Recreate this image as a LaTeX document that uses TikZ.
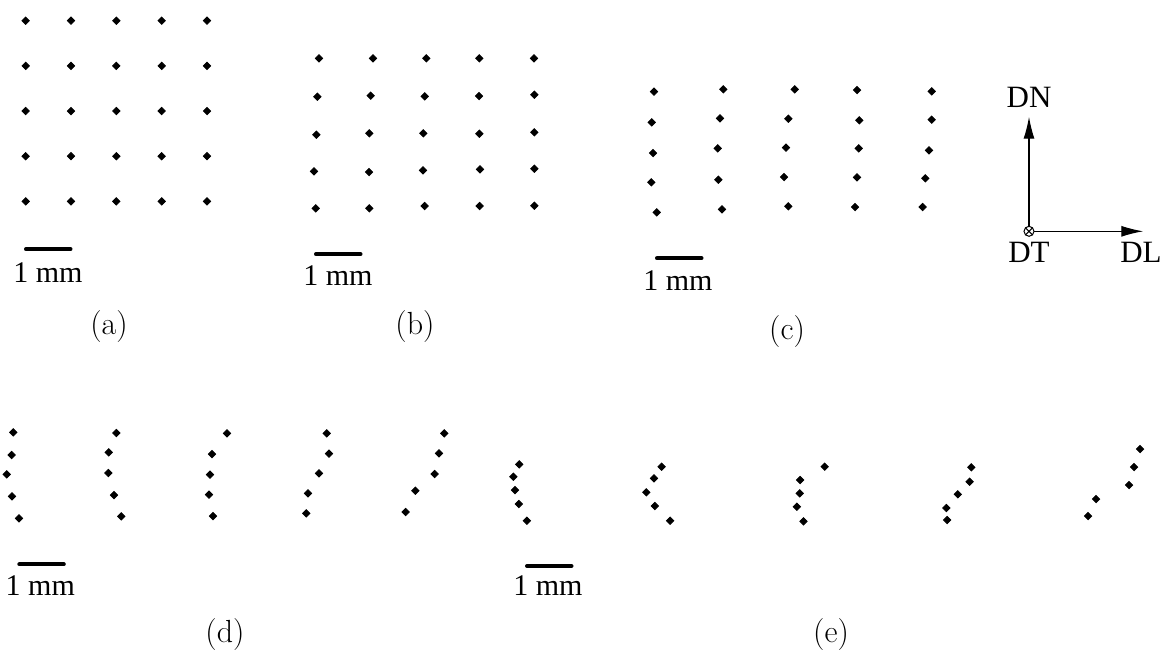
\documentclass[tikz,border=0pt]{standalone}
\usepackage{fontspec}
\usetikzlibrary{arrows.meta, plotmarks}
\newfontfamily\xfigfont{Liberation Serif}

\begin{document}
\begin{tikzpicture}[x=0.5pt, y=-0.5pt,
        dots/.style={only marks, mark=square*, mark size=1.3pt,
          mark options={rotate=45, fill=black}},
        bar/.style={line width=2pt, line cap=round},
        mm/.style={font=\xfigfont\fontsize{15}{17}\selectfont, anchor=base west, inner sep=0pt},
        sub/.style={font=\fontsize{16}{18}\selectfont, anchor=base, inner sep=0pt},
        ax/.style={font=\xfigfont\fontsize{15.5}{17}\selectfont, anchor=base, inner sep=0pt},
        axis/.style={line width=0.6pt, -{Latex[length=11pt, width=5.5pt]}}]
      \useasboundingbox (0,0) rectangle (1163,650);

      % (a) regular grid
      \foreach \yy in {20.7,65.9,111,156.2,201.4}
        \path plot[dots] coordinates {(25.7,\yy) (71,\yy) (116.3,\yy) (161.7,\yy) (207,\yy)};

      % (b) slightly displaced
      \path plot[dots] coordinates {(319,58.3) (373,58.3) (426.3,58.3) (479.3,58.3) (534,58.3)
        (317.3,96.7) (370.7,95.7) (424.7,96.3) (479,96) (534.3,94.7)
        (316.3,134.7) (369.3,133.3) (423.3,133.3) (479.3,133.7) (534.3,132.3)
        (314,171.3) (369,172) (423,170.3) (480,169.3) (534.3,168.7)
        (315.7,208.3) (369.3,208.3) (424.7,206) (479.7,206) (534.3,205.7)};

      % (c) columns start to bend
      \path plot[dots] coordinates {(654,91.7) (723.3,89.3) (794.7,89.3) (857,90) (931.7,91.3)
        (651.7,122.3) (720,118.3) (788.3,118.7) (859.3,120.3) (931.7,119.7)
        (653,153) (717.7,148.3) (786,147.7) (858.7,148.3) (929,150.3)
        (651.3,182.3) (718.3,179.7) (784,177) (857,177.3) (925.3,178.3)
        (656.7,212.3) (722,209.3) (788.3,206.3) (855,207) (922.7,207)};

      % (d)
      \path plot[dots] coordinates {(13.3,432.3) (11.7,455) (6.7,474.3) (12,496.3) (19,518.3)
        (116.3,433) (108.7,452.3) (108.3,473) (114,495) (121.3,516.3)
        (227,433.3) (212,454) (210,474.7) (209,494.7) (213,516)
        (326.7,433.3) (329,453.7) (319,473.3) (308,493.3) (306.3,513.3)
        (444.3,433.3) (439,453.3) (434.7,474) (415.3,490.7) (405.7,512)};

      % (e)
      \path plot[dots] coordinates {(519.2,464.3) (513.3,476.7) (515,490) (518.8,504) (526.9,520.7)
        (661.6,466.7) (654,478.3) (646.3,492.3) (654.8,506) (670.1,520.7)
        (824.7,466.7) (800.1,480) (799.7,493.3) (796.8,506.7) (803.5,521.3)
        (971.3,467.3) (969.6,481.7) (957.8,494.3) (946.3,508) (947.2,520)
        (1140,449) (1134,467) (1129,485) (1096,499) (1088,516)};

      % scale bars
      \foreach \i/\bx/\by/\tx/\ty in {a/24/249.3/13/282.7, b/314/254.3/303/285,
          c/655/258.3/643/290, d/17.3/564.3/5.3/595, e/525/566/513/595} {
        \draw[bar] (\bx+2,\by) -- (\bx+46.5,\by);
        \node[mm] (mm\i) at (\tx,\ty) {1 mm};
      }

      \node[sub] (capa) at (109,334) {(a)};
      \node[sub] (capb) at (415,334) {(b)};
      \node[sub] (capc) at (787,339) {(c)};
      \node[sub] (capd) at (225,642) {(d)};
      \node[sub] (cape) at (831,642) {(e)};

      % sample axes
      \coordinate (o) at (1029,231.3);
      \coordinate (n) at (1029,116.7);
      \coordinate (l) at (1143.3,231.3);
      \draw[axis] (o) -- (n);
      \draw[axis] (o) -- (l);
      \draw[line width=0.5pt, fill=white] (o) circle[radius=5];
      \draw[line width=0.5pt] (o) +(-3.5,-3.5) -- +(3.5,3.5) (o) +(-3.5,3.5) -- +(3.5,-3.5);
      \node[ax] (dn) at (1029,107.3) {DN};
      \node[ax] (dt) at (1029,262) {DT};
      \node[ax] (dl) at (1141,262) {DL};
    \end{tikzpicture}
\end{document}
